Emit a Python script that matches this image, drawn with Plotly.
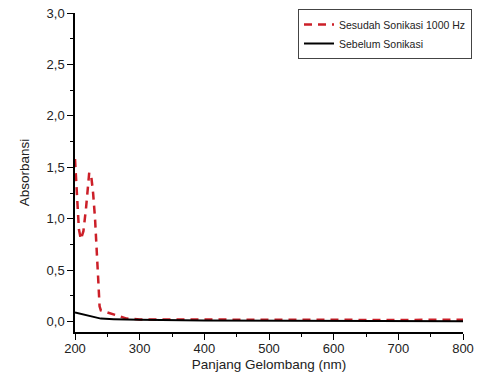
import plotly.graph_objects as go

wl_red = [200, 203, 206, 209, 213, 217, 220, 222, 225, 228, 231, 234, 236, 238, 240, 250, 260, 270, 280, 300, 400, 500, 600, 700, 800]
abs_red = [1.58, 1.2, 0.9, 0.8, 0.88, 1.1, 1.35, 1.45, 1.42, 1.25, 1.0, 0.7, 0.4, 0.15, 0.11, 0.09, 0.07, 0.045, 0.03, 0.022, 0.02, 0.018, 0.015, 0.017, 0.02]

wl_black = [200, 210, 220, 230, 240, 260, 280, 300, 400, 500, 600, 700, 800]
abs_black = [0.09, 0.075, 0.06, 0.05, 0.03, 0.025, 0.02, 0.018, 0.012, 0.01, 0.008, 0.006, 0.005]

x_ticks = [200, 300, 400, 500, 600, 700, 800]
y_ticks = [0.0, 0.5, 1.0, 1.5, 2.0, 2.5, 3.0]

fig = go.Figure()
fig.add_trace(go.Scatter(x=wl_red, y=abs_red, mode="lines", name="Sesudah Sonikasi 1000 Hz",
                         line=dict(color="#cc1f28", width=2.5, dash="8px,6px")))
fig.add_trace(go.Scatter(x=wl_black, y=abs_black, mode="lines", name="Sebelum Sonikasi",
                         line=dict(color="black", width=2)))

fig.update_layout(
    width=479, height=385,
    margin=dict(l=75, r=16, t=13, b=53, autoexpand=False),
    plot_bgcolor="white", paper_bgcolor="white",
    separators=",.",
    font=dict(family="Liberation Sans, Arial, sans-serif", size=13, color="#222"),
    legend=dict(xref="container", yref="container", x=298/479, y=1 - 9/385,
                xanchor="left", yanchor="top",
                bordercolor="#444", borderwidth=1, bgcolor="white",
                font=dict(size=10.5), tracegroupgap=0, itemwidth=30),
    xaxis=dict(range=[200, 800], tickvals=x_ticks, ticks="outside", ticklen=6,
               showline=True, linecolor="black", linewidth=1.5, showgrid=False, zeroline=False,
               minor=dict(ticks="outside", ticklen=3, dtick=50, tick0=200, tickcolor="black"),
               tickcolor="black", tickfont=dict(size=13), ticklabelstandoff=-2,
               title=dict(text="Panjang Gelombang (nm)", font=dict(size=13.5), standoff=4)),
    yaxis=dict(range=[-0.1, 3.0], tickvals=y_ticks, tickformat=".1f", ticks="outside", ticklen=6,
               showline=True, linecolor="black", linewidth=1.5, showgrid=False, zeroline=False,
               minor=dict(ticks="outside", ticklen=3, dtick=0.25, tick0=0, tickcolor="black"),
               tickcolor="black", tickfont=dict(size=13),
               title=dict(text="Absorbansi", font=dict(size=13.5), standoff=14)),
)

fig.write_html("out.html")
